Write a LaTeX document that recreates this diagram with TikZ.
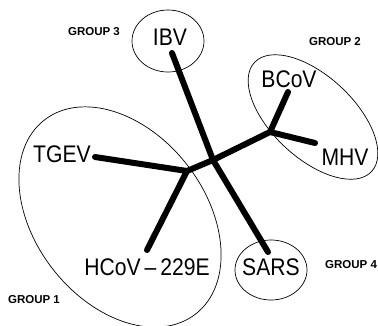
\documentclass[tikz,border=0pt]{standalone}
\usepackage{fontspec}
\setmainfont[FakeStretch=0.88]{Liberation Sans}
\newfontfamily\grpfont{Liberation Sans}
\begin{document}
\begin{tikzpicture}[x=1pt,y=-1pt,
  branch/.style={line width=6pt, line cap=round, line join=round},
  grpline/.style={line width=0.7pt},
  taxon/.style={inner sep=0, anchor=base, font=\fontsize{24}{24}\selectfont},
  grplabel/.style={inner sep=0, anchor=base, font=\grpfont\bfseries\fontsize{11.5}{11.5}\selectfont}]
\useasboundingbox (0,0) rectangle (378,325);
% group outlines
\draw[grpline] (168,41) ellipse [x radius=36, y radius=31];
\draw[grpline, rotate around={-43:(313,117)}] (313,117) ellipse [x radius=80, y radius=41];
\draw[grpline, rotate around={-52:(120,217)}] (120,217) ellipse [x radius=123, y radius=85];
\draw[grpline] (271,270) ellipse [x radius=36, y radius=30];
% tree junctions and branch ends
\coordinate (c) at (213,160);
\coordinate (g1) at (187,171);
\coordinate (g2) at (270,132);
\coordinate (eibv) at (172,53);
\coordinate (etgev) at (95,157);
\coordinate (ehcov) at (147,250);
\coordinate (esars) at (268,252);
\coordinate (ebcov) at (288,92);
\coordinate (emhv) at (315,143);
\draw[branch] (eibv) -- (c) -- (esars);
\draw[branch] (g1) -- (c) -- (g2);
\draw[branch] (etgev) -- (g1) -- (ehcov);
\draw[branch] (ebcov) -- (g2) -- (emhv);
% taxa
\node[taxon] (ibv) at (170,45) {IBV};
\node[taxon] (bcov) at (289,87) {BCoV};
\node[taxon] (mhv) at (345,165) {MHV};
\node[taxon] (tgev) at (62,162) {TGEV};
\node[taxon] (hcov) at (147,275) {HCoV\,--\,229E};
\node[taxon] (sars) at (271,275) {SARS};
% group labels
\node[grplabel] (gr3) at (94,35) {GROUP 3};
\node[grplabel] (gr2) at (335,45) {GROUP 2};
\node[grplabel, anchor=base west] (gr4) at (325,268) {GROUP 4};
\node[grplabel] (gr1) at (34,303) {GROUP 1};
\end{tikzpicture}
\end{document}
